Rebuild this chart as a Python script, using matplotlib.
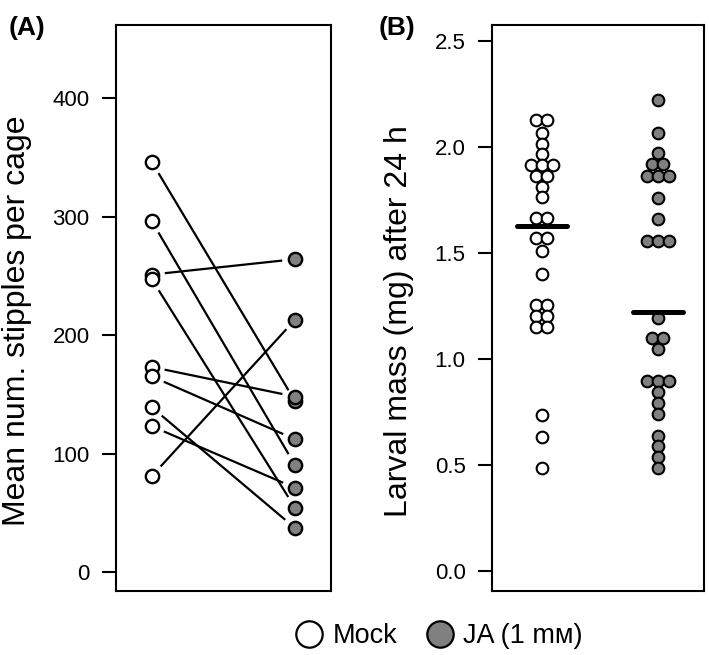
import numpy as np
import matplotlib.pyplot as plt
from matplotlib.lines import Line2D

plt.rcParams['font.family'] = ['Liberation Sans', 'DejaVu Sans']

# panel A: mean stipples per cage, paired mock / JA
mock_stipples = [346, 296, 251, 247, 173, 165, 139, 123, 81]
ja_stipples = [144, 90, 264, 54, 148, 112, 37, 71, 213]

# panel B: larval mass (mg) after 24 h
mock_mass = [2.127, 2.127, 2.068, 2.017, 1.966, 1.914, 1.914, 1.914, 1.864, 1.864,
             1.812, 1.764, 1.667, 1.667, 1.572, 1.572, 1.509, 1.40, 1.255, 1.255,
             1.205, 1.205, 1.15, 1.15, 0.737, 0.635, 0.485]
ja_mass = [2.22, 2.068, 1.972, 1.919, 1.919, 1.866, 1.866, 1.866, 1.761, 1.662,
           1.558, 1.558, 1.558, 1.194, 1.10, 1.10, 1.047, 0.895, 0.895, 0.895,
           0.845, 0.792, 0.742, 0.64, 0.589, 0.538, 0.489]
mass_bars = [1.627, 1.222]

GREY = '#808080'
W, H = 709, 655

fig = plt.figure(figsize=(W / 100, H / 100), dpi=100)
axA = fig.add_axes([116 / W, 1 - 591 / H, 215 / W, 566 / H])
axB = fig.add_axes([492 / W, 1 - 591 / H, 212 / W, 566 / H])


def gap_line(ax, x0, y0, x1, y1, gap):
    # line between two points, cut short near each point (like R type="b")
    p0 = ax.transData.transform((x0, y0))
    p1 = ax.transData.transform((x1, y1))
    u = (p1 - p0) / np.hypot(*(p1 - p0))
    inv = ax.transData.inverted()
    q0 = inv.transform(p0 + u * gap)
    q1 = inv.transform(p1 - u * gap)
    ax.plot([q0[0], q1[0]], [q0[1], q1[1]], color='black', lw=1.6, solid_capstyle='butt', zorder=1)


def center_offsets(vals, dx):
    vals = np.asarray(vals)
    offs = np.zeros(len(vals))
    for v in np.unique(vals):
        idx = np.where(vals == v)[0]
        offs[idx] = (np.arange(len(idx)) - (len(idx) - 1) / 2) * dx
    return offs


# ---- panel A
axA.set_xlim(0.75, 2.25)
axA.set_ylim(-16, 461.6)
for m, j in zip(mock_stipples, ja_stipples):
    gap_line(axA, 1, m, 2, j, 13)
axA.plot(np.ones(len(mock_stipples)), mock_stipples, 'o', ms=9.6, mfc='white', mec='black', mew=1.7, zorder=3)
axA.plot(np.full(len(ja_stipples), 2), ja_stipples, 'o', ms=9.6, mfc=GREY, mec='black', mew=1.7, zorder=3)
axA.set_xticks([])
axA.set_yticks([0, 100, 200, 300, 400])

# ---- panel B
dx = 0.095
axB.set_xlim(0.5715, 2.4)
axB.set_ylim(-0.093, 2.576)
axB.plot(1 + center_offsets(mock_mass, dx), mock_mass, 'o', ms=8.4, mfc='white', mec='black', mew=1.5, zorder=2)
axB.plot(2 + center_offsets(ja_mass, dx), ja_mass, 'o', ms=8.4, mfc=GREY, mec='black', mew=1.5, zorder=2)
for xpos, b in zip([1, 2], mass_bars):
    axB.plot([xpos - 0.215, xpos + 0.215], [b, b], color='black', lw=3.6, solid_capstyle='round', zorder=3)
axB.set_xticks([])
axB.set_yticks([0, 0.5, 1.0, 1.5, 2.0, 2.5])
axB.set_yticklabels(['%.1f' % v for v in [0, 0.5, 1.0, 1.5, 2.0, 2.5]])

for ax in (axA, axB):
    for s in ax.spines.values():
        s.set_linewidth(1.5)
    ax.tick_params(axis='y', length=10, width=1.5, pad=9, labelsize=16)

fig.text(17 / W, 1 - 321 / H, 'Mean num. stipples per cage', rotation=90, ha='center', va='center', fontsize=23)
fig.text(399 / W, 1 - 321 / H, 'Larval mass (mg) after 24 h', rotation=90, ha='center', va='center', fontsize=23)
fig.text(9 / W, 1 - 16 / H, '(A)', fontsize=19, fontweight='bold', ha='left', va='top')
fig.text(379 / W, 1 - 16 / H, '(B)', fontsize=19, fontweight='bold', ha='left', va='top')

handles = [Line2D([], [], marker='o', ls='none', ms=19, mfc='white', mec='black', mew=1.6),
           Line2D([], [], marker='o', ls='none', ms=19, mfc=GREY, mec='black', mew=1.6)]
fig.legend(handles, ['Mock', 'JA (1 m\u1d0d)'], loc='center', bbox_to_anchor=(438 / W, 1 - 636 / H),
           ncol=2, frameon=False, fontsize=19.5, handletextpad=0.25, columnspacing=1.0, handlelength=1.2)

fig.savefig('out.png', dpi=100)
